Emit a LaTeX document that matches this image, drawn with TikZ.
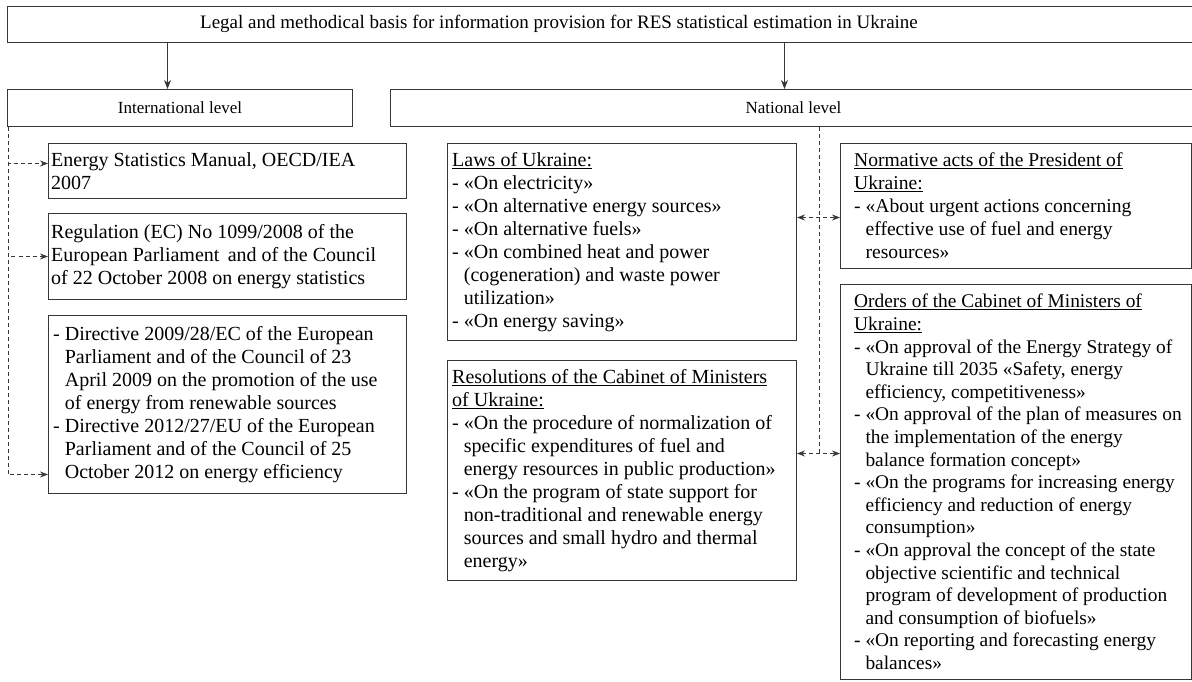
\documentclass[tikz,border=0pt]{standalone}
\usepackage{fontspec}
\setmainfont{Liberation Serif}
\usetikzlibrary{arrows.meta}
\definecolor{linec}{RGB}{55,55,55}
\newcommand\ind{\phantom{- }}
\begin{document}
\begin{tikzpicture}[x=1pt,y=-1pt,
  box/.style={draw=linec, line width=1pt, anchor=north west, inner sep=0pt},
  txt/.style={anchor=west, align=left, inner sep=0pt, text=black,
    font=\fontsize{20}{23}\selectfont},
  hdr/.style={inner sep=0pt, text=black, font=\fontsize{17}{20}\selectfont},
  arr/.style={draw=linec, line width=0.8pt, -{Stealth[length=9pt,width=7pt]}},
  dsh/.style={draw=linec, line width=0.8pt, dash pattern=on 4pt off 3pt},
  dtip/.style={-{Stealth[length=8pt,width=6pt]}},
  ddtip/.style={{Stealth[length=8pt,width=6pt]}-{Stealth[length=8pt,width=6pt]}}]
\useasboundingbox (0,0) rectangle (1192,681);
\clip (0,0) rectangle (1192,681);

% boxes
\node[box, minimum width=1189pt, minimum height=36pt] (top) at (7,6) {};
\node[box, minimum width=345pt, minimum height=37pt] (intl) at (7,89) {};
\node[box, minimum width=806pt, minimum height=37pt] (natl) at (390,89) {};
\node[box, minimum width=358pt, minimum height=55pt] (e1) at (48,143) {};
\node[box, minimum width=358pt, minimum height=86pt] (e2) at (48,213) {};
\node[box, minimum width=358pt, minimum height=178pt] (e3) at (48,315) {};
\node[box, minimum width=349pt, minimum height=197pt] (laws) at (447,143) {};
\node[box, minimum width=351pt, minimum height=125pt] (norm) at (840,143) {};
\node[box, minimum width=349pt, minimum height=220pt] (res) at (447,360) {};
\node[box, minimum width=351pt, minimum height=395pt] (ord) at (840,284) {};

% headings
\node[hdr, font=\fontsize{19}{22}\selectfont] (ttl) at (559,24) {Legal and methodical basis for information provision for RES statistical estimation in Ukraine};
\node[hdr] (intlt) at (intl.center) {International level};
\node[hdr] (natlt) at (natl.center) {National level};

% texts
\node[txt] (e1t) at ([xshift=3pt]e1.west) {Energy Statistics Manual, OECD/IEA\\2007};
\node[txt] (e2t) at ([xshift=3pt]e2.west) {Regulation (EC) No 1099/2008 of the\\European Parliament\, and of the Council\\of 22 October 2008 on energy statistics};
\node[txt] (e3t) at ([xshift=5pt]e3.west) {- Directive 2009/28/EC of the European\\\ind Parliament and of the Council of 23\\\ind April 2009 on the promotion of the use\\\ind of energy from renewable sources\\- Directive 2012/27/EU of the European\\\ind Parliament and of the Council of 25\\\ind October 2012 on energy efficiency};
\node[txt] (lawst) at ([xshift=5pt]laws.west) {\underline{Laws of Ukraine:}\\- «On electricity»\\- «On alternative energy sources»\\- «On alternative fuels»\\- «On combined heat and power\\\ind (cogeneration) and waste power\\\ind utilization»\\- «On energy saving»};
\node[txt, font=\fontsize{19.6}{23}\selectfont] (normt) at ([xshift=14pt]norm.west) {\underline{Normative acts of the President of}\\\underline{Ukraine:}\\- «About urgent actions concerning\\\ind effective use of fuel and energy\\\ind resources»};
\node[txt] (rest) at ([xshift=5pt]res.west) {\underline{Resolutions of the Cabinet of Ministers}\\\underline{of Ukraine:}\\- «On the procedure of normalization of\\\ind specific expenditures of fuel and\\\ind energy resources in public production»\\- «On the program of state support for\\\ind non-traditional and renewable energy\\\ind sources and small hydro and thermal\\\ind energy»};
\node[txt, font=\fontsize{19.4}{22.6}\selectfont] (ordt) at ([xshift=14pt]ord.west) {\underline{Orders of the Cabinet of Ministers of}\\\underline{Ukraine:}\\- «On approval of the Energy Strategy of\\\ind Ukraine till 2035 «Safety, energy\\\ind efficiency, competitiveness»\\- «On approval of the plan of measures on\\\ind the implementation of the energy\\\ind balance formation concept»\\- «On the programs for increasing energy\\\ind efficiency and reduction of energy\\\ind consumption»\\- «On approval the concept of the state\\\ind objective scientific and technical\\\ind program of development of production\\\ind and consumption of biofuels»\\- «On reporting and forecasting energy\\\ind balances»};

% solid arrows
\draw[arr] ([xshift=-12.5pt]intl.north |- top.south) -- ([xshift=-12.5pt]intl.north);
\draw[arr] ([xshift=-9pt]natl.north |- top.south) -- ([xshift=-9pt]natl.north);

% international dashed tree
\draw[dsh, dtip] ([xshift=1pt]intl.south west) |- ([yshift=7.5pt]e1.west);
\draw[dsh, dtip] ([xshift=1pt]intl.south west) |- (e2.west);
\draw[dsh, dtip] ([xshift=1pt]intl.south west) |- ([yshift=-70pt]e3.west);

% national dashed tree
\coordinate (nt) at (819,453);
\draw[dsh] (natl.south -| nt) -- (nt);
\draw[dsh, ddtip] ([yshift=24.5pt]laws.east) -- ([yshift=24.5pt]laws.east -| norm.west);
\draw[dsh, ddtip] ([yshift=17pt]res.east) -- ([yshift=17pt]res.east -| ord.west);
\end{tikzpicture}
\end{document}
